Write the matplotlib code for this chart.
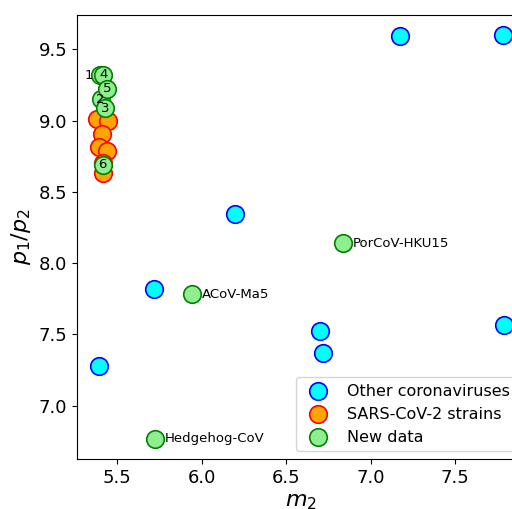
import matplotlib
matplotlib.use("Agg")
import matplotlib.pyplot as plt

# Other coronaviruses
other_m2 = [7.172, 7.781, 6.195, 5.716, 6.698, 6.716, 7.787, 5.391]
other_p = [9.592, 9.599, 8.345, 7.817, 7.521, 7.373, 7.563, 7.282]

# SARS-CoV-2 strains
sars_m2 = [5.382, 5.444, 5.408, 5.391, 5.438, 5.414, 5.417]
sars_p = [9.014, 9.000, 8.908, 8.817, 8.789, 8.700, 8.634]

# New data
new_labels = ["1", "2", "3", "4", "5", "6", "PorCoV-HKU15", "ACoV-Ma5", "Hedgehog-CoV"]
new_m2 = [5.396, 5.402, 5.426, 5.417, 5.438, 5.414, 6.834, 5.941, 5.722]
new_p = [9.317, 9.148, 9.088, 9.320, 9.225, 8.690, 8.141, 7.782, 6.768]

fig = plt.figure(figsize=(5.12, 5.09), dpi=100)
ax = fig.add_axes([77/512, 50/509, 447/512, 444/509])

ms = 160
ax.scatter(other_m2, other_p, s=ms, c="cyan", edgecolors="blue", linewidths=1.2,
           label="Other coronaviruses", zorder=2)
ax.scatter(sars_m2, sars_p, s=ms, c="orange", edgecolors="red", linewidths=1.2,
           label="SARS-CoV-2 strains", zorder=3)
ax.scatter(new_m2, new_p, s=ms, c="lightgreen", edgecolors="green", linewidths=1.2,
           label="New data", zorder=4)

for lab, x, y in zip(new_labels, new_m2, new_p):
    if len(lab) == 1:
        dx = -8 if lab == "1" else 0
        ax.annotate(lab, (x, y), xytext=(dx, 0), textcoords="offset points",
                    ha="center", va="center", fontsize=9.5, zorder=5)
    else:
        ax.annotate(lab, (x, y), xytext=(7.5, 0), textcoords="offset points",
                    ha="left", va="center", fontsize=9.5, zorder=5)

ax.tick_params(labelsize=13)
ax.set_xlabel("$m_2$", fontsize=16)
ax.set_ylabel("$p_1/p_2$", fontsize=16)
ax.legend(loc="lower right", fontsize=11.5)

fig.savefig("out.png", dpi=100)
